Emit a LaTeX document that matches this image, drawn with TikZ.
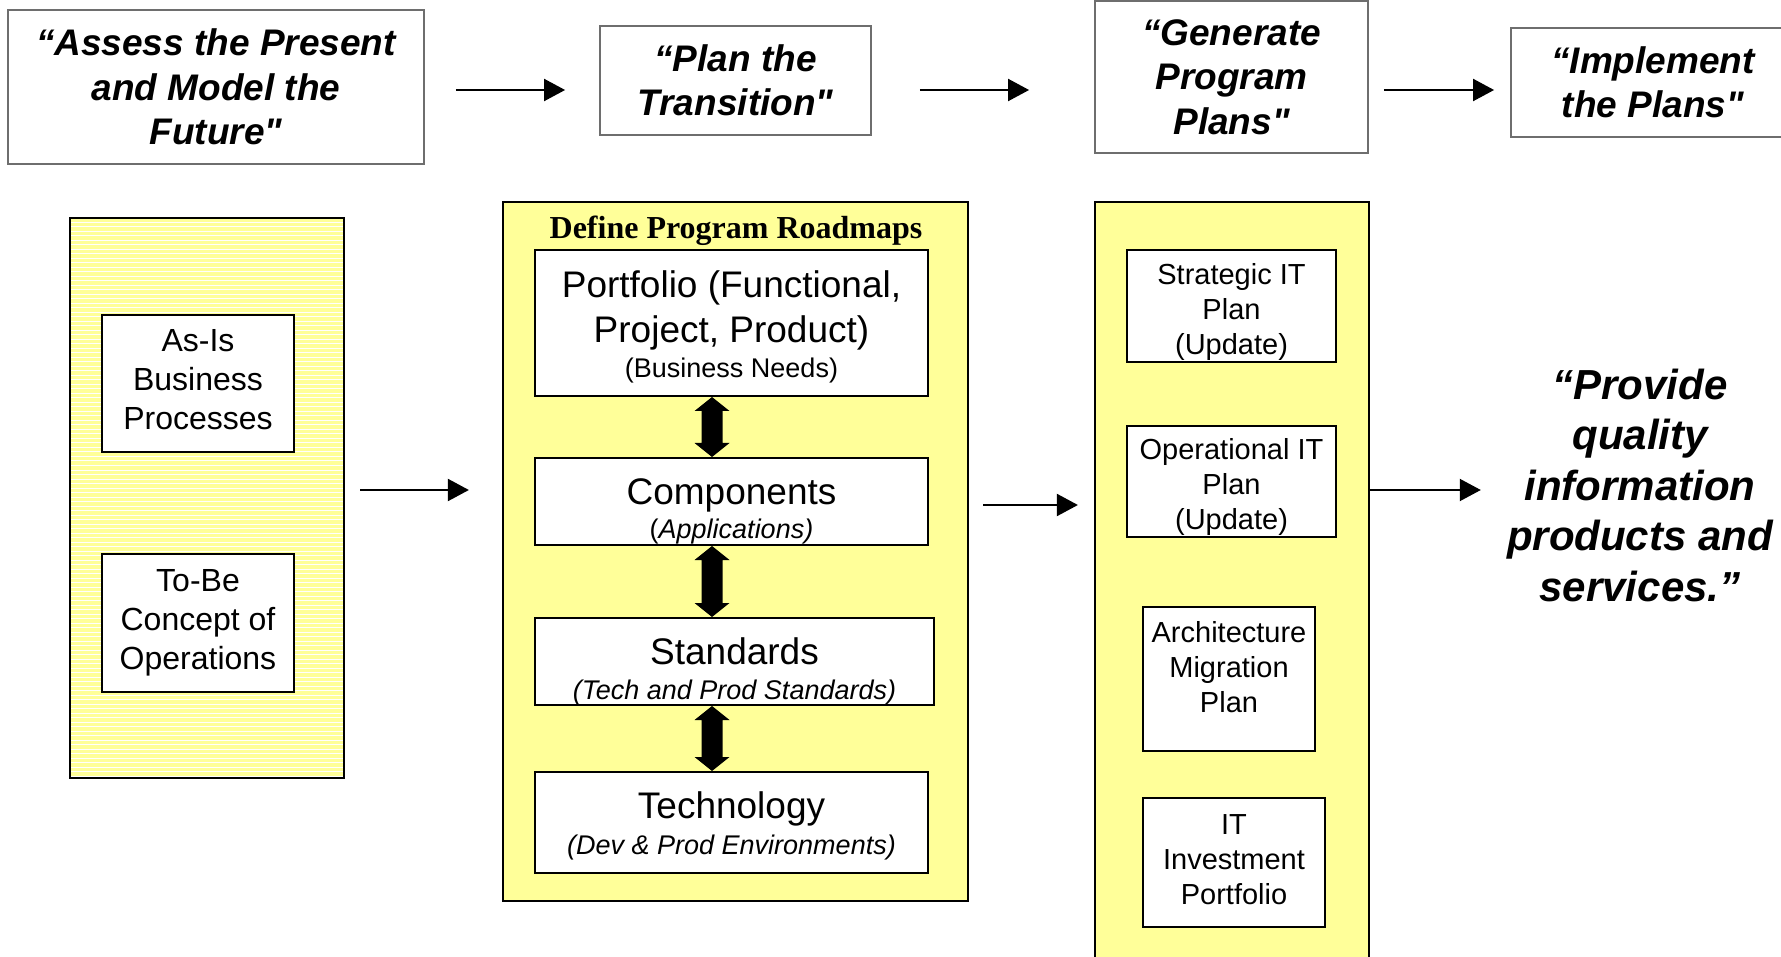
\documentclass[tikz,border=0pt]{standalone}
\usepackage{fontspec}
\setmainfont{Liberation Sans}[Ligatures=TeXOff]
\newfontfamily\timesf{Liberation Serif}
\usetikzlibrary{arrows.meta,calc}
\definecolor{paneY}{HTML}{FFFF99}
\definecolor{topgray}{HTML}{6E6E6E}
\newcommand\ns{\spaceskip=0pt\xspaceskip=0pt\relax}
\newcommand\hs[1]{\rule{0pt}{#1pt}}
\newcommand\ds[1]{\rule[-#1pt]{0pt}{#1pt}}
\newcommand\dblarrow[2]{%
  \fill (#1.south -| ax) -- ++(17.5,14) -- ++(-7,0) -- ($(#2.north -| ax)+(10.5,-14)$) -- ++(7,0) -- (#2.north -| ax)
     -- ++(-17.5,-14) -- ++(7,0) -- ($(#1.south -| ax)+(-10.5,14)$) -- ++(-7,0) -- cycle;}
\begin{document}
\begin{tikzpicture}[x=1pt,y=-1pt,
  topbox/.style={draw=topgray,line width=1.8pt,fill=white,inner sep=0pt,align=center,
     font=\fontsize{37}{44.3}\selectfont\bfseries\itshape},
  panel/.style={draw=black,line width=2.2pt,fill=paneY,inner sep=0pt},
  inbox/.style={draw=black,line width=2pt,fill=white,inner sep=0pt,align=center},
  leftbox/.style={inbox,font=\fontsize{32}{38.7}\selectfont},
  rightbox/.style={inbox,font=\fontsize{29}{35}\selectfont},
  arr/.style={line width=2pt,-{Triangle[length=21pt,width=22pt]}},
]
\useasboundingbox (0,0) rectangle (1781,957);

% ---------- top row ----------
\node[topbox,minimum width=416pt,minimum height=154pt] (assess) at (216,87)
  {\ns “Assess the Present\\and Model the\\Future"};
\node[topbox,minimum width=271pt,minimum height=109pt] (plan) at (735.5,80.5)
  {\ns “Plan the\\Transition"};
\node[topbox,minimum width=273pt,minimum height=152pt] (gen) at (1231.5,77)
  {\ns “Generate\\Program\\Plans"};
\node[topbox,minimum width=284pt,minimum height=109pt] (impl) at (1653,82.5)
  {\ns “Implement\\the Plans"};

\coordinate (yt) at (0,90);
\draw[arr] ([xshift=31pt]assess.east |- yt) -- ([xshift=-34pt]plan.west |- yt);
\draw[arr] ([xshift=48pt]plan.east |- yt) -- ([xshift=-65pt]gen.west |- yt);
\draw[arr] ([xshift=15pt]gen.east |- yt) -- ([xshift=-16pt]impl.west |- yt);

% ---------- left panel ----------
\node[panel,minimum width=274pt,minimum height=560pt,
  path picture={\foreach \k in {1,...,124}
    \draw[white,line width=1pt] ($(path picture bounding box.north west)+(0,\k*4.5)$) -- ++(300,0);}]
  (lp) at (207,498) {};
\node[leftbox,minimum width=192pt,minimum height=137pt] (asis) at (198,383.5)
  {\ns\hs{34}As-Is\\Business\\Processes\ds{20}};
\node[leftbox,minimum width=192pt,minimum height=138pt] (tobe) at (198,623)
  {\ns To-Be\\Concept of\\Operations};

% ---------- middle panel ----------
\node[panel,minimum width=465pt,minimum height=699pt] (mp) at (735.5,551.5) {};
\node[font=\timesf\bfseries\fontsize{32}{38}\selectfont,inner sep=0pt] (title) at (736,231)
  {\ns Define Program Roadmaps};
\node[inbox,minimum width=393pt,minimum height=146pt,font=\fontsize{37}{45}\selectfont] (pf) at (731.5,323)
  {\ns\hs{41}Portfolio (Functional,\\Project, Product)\\[-10pt]
   {\fontsize{27}{32}\selectfont\ns (Business Needs)\ds{12.5}}};
\node[inbox,minimum width=393pt,minimum height=87pt,font=\fontsize{37}{34}\selectfont] (cp) at (731.5,501.5)
  {\ns\hs{46.5}Components\\
   {\fontsize{27}{32}\selectfont\ns (\textit{Applications)}\ds{6}}};
\node[inbox,minimum width=399pt,minimum height=87pt,font=\fontsize{37}{34.6}\selectfont] (sd) at (734.5,661.5)
  {\ns\hs{46.4}Standards\\
   {\fontsize{27}{32}\selectfont\itshape\ns (Tech and Prod Standards)\ds{5.8}}};
\node[inbox,minimum width=393pt,minimum height=101pt,font=\fontsize{37}{36}\selectfont] (tc) at (731.5,822.5)
  {\ns\hs{37}Technology\\
   {\fontsize{27}{32}\selectfont\itshape\ns (Dev \& Prod Environments)\ds{10}}};
\coordinate (ax) at (712,0);
\dblarrow{pf}{cp}
\dblarrow{cp}{sd}
\dblarrow{sd}{tc}

% ---------- right panel ----------
\node[panel,minimum width=274pt,minimum height=780pt] (rp) at (1232,592) {};
\node[rightbox,minimum width=209pt,minimum height=112pt] (sit) at (1231.5,306)
  {\ns\hs{34}Strategic IT\\Plan\\(Update)\ds{7.5}};
\node[rightbox,minimum width=209pt,minimum height=111pt] (oit) at (1231.5,481.5)
  {\ns\hs{33.5}Operational IT\\Plan\\(Update)\ds{7}};
\node[rightbox,minimum width=172pt,minimum height=144pt] (amp) at (1229,679)
  {\ns\hs{24}Architecture\\Migration\\Plan\ds{28}};
\node[rightbox,minimum width=182pt,minimum height=129pt] (iip) at (1234,862.5)
  {\ns\hs{36}IT\\Investment\\Portfolio\ds{23}};

% ---------- goal ----------
\node[align=center,inner sep=0pt,font=\fontsize{42}{50.5}\selectfont\bfseries\itshape] (goal) at (1640,485)
  {\ns “Provide\\quality\\information\\products and\\services.”};

% ---------- panel connectors ----------
\coordinate (ya) at (0,490);
\coordinate (yb) at (0,505);
\draw[arr] ([xshift=15pt]lp.east |- ya) -- ([xshift=-33pt]mp.west |- ya);
\draw[arr] ([xshift=14pt]mp.east |- yb) -- ([xshift=-16pt]rp.west |- yb);
\draw[arr] (rp.east |- ya) -- ([xshift=-26pt]goal.west |- ya);
\end{tikzpicture}
\end{document}
